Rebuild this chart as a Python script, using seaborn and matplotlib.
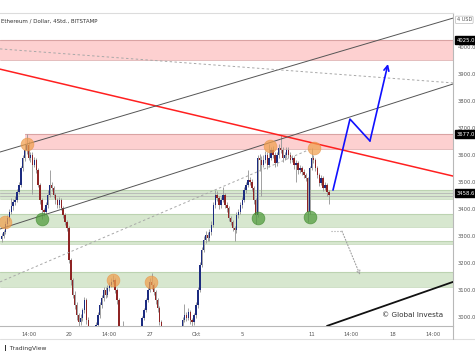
import numpy as np
import pandas as pd
import seaborn as sns
import matplotlib.pyplot as plt
import matplotlib.transforms as mtransforms
from matplotlib.lines import Line2D

# ETH/USD 4h candles, first candle 14 Sep 2021 04:00
# x axis = day of September (Okt 1 = 31)
first_open = 3290
closes = [3300, 3315, 3344, 3367, 3389, 3411,
          3426, 3433, 3463, 3489, 3552, 3589,
          3619, 3637, 3589, 3600, 3563, 3581,
          3544, 3489, 3433, 3396, 3389, 3415,
          3452, 3489, 3478, 3452, 3433, 3415,
          3433, 3404, 3378, 3352, 3330, 3211,
          3137, 3082, 3044, 3007, 2981, 2996,
          3026, 3063, 2989, 2933, 2896, 2915,
          2944, 2970, 3007, 3044, 3070, 3100,
          3082, 3107, 3119, 3130, 3137, 3100,
          3063, 2952, 2896, 2960, 2933, 2915,
          2922, 2933, 2915, 2907, 2922, 2930,
          2952, 2996, 3026, 3063, 3100, 3130,
          3119, 3093, 3063, 3033, 2981, 2944,
          2933, 2915, 2896, 2878, 2885, 2870,
          2896, 2915, 2922, 2944, 2989, 3007,
          2996, 3018, 2989, 2981, 3007, 3044,
          3100, 3193, 3248, 3285, 3304, 3293,
          3315, 3341, 3415, 3452, 3441, 3415,
          3433, 3452, 3415, 3404, 3367, 3352,
          3330, 3322, 3378, 3389, 3415, 3433,
          3470, 3489, 3507, 3500, 3478, 3433,
          3378, 3589, 3581, 3563, 3581, 3600,
          3563, 3589, 3619, 3600, 3570, 3600,
          3626, 3619, 3589, 3600, 3619, 3600,
          3581, 3589, 3563, 3570, 3544, 3552,
          3537, 3526, 3515, 3389, 3552, 3589,
          3581, 3552, 3526, 3496, 3515, 3478,
          3489, 3463, 3452]
highs = [3312, 3322, 3355, 3378, 3400, 3440,
         3437, 3448, 3475, 3500, 3560, 3600,
         3640, 3677, 3650, 3612, 3610, 3592,
         3590, 3552, 3495, 3440, 3405, 3425,
         3470, 3545, 3500, 3485, 3460, 3440,
         3445, 3440, 3410, 3385, 3360, 3338,
         3220, 3145, 3095, 3055, 3015, 3010,
         3035, 3075, 3070, 3000, 2945, 2925,
         2955, 2980, 3018, 3055, 3080, 3112,
         3110, 3118, 3130, 3145, 3156, 3145,
         3108, 3070, 2960, 2985, 2968, 2940,
         2930, 2940, 2940, 2922, 2930, 2938,
         2960, 3005, 3035, 3072, 3110, 3145,
         3163, 3125, 3100, 3070, 3040, 2990,
         2950, 2940, 2922, 2905, 2895, 2892,
         2905, 2925, 2932, 2955, 3000, 3050,
         3020, 3035, 3025, 2998, 3015, 3055,
         3110, 3205, 3260, 3300, 3320, 3315,
         3325, 3355, 3425, 3470, 3465, 3448,
         3445, 3481, 3460, 3425, 3410, 3375,
         3360, 3338, 3390, 3400, 3425, 3445,
         3482, 3500, 3544, 3520, 3510, 3485,
         3440, 3600, 3605, 3595, 3600, 3615,
         3610, 3640, 3630, 3635, 3610, 3612,
         3640, 3674, 3630, 3612, 3630, 3628,
         3610, 3600, 3595, 3580, 3578, 3562,
         3560, 3548, 3535, 3520, 3560, 3626,
         3600, 3590, 3560, 3535, 3525, 3522,
         3500, 3495, 3470]
lows = [3278, 3292, 3308, 3335, 3356, 3380,
        3398, 3415, 3425, 3455, 3480, 3540,
        3578, 3605, 3580, 3575, 3455, 3555,
        3535, 3480, 3420, 3362, 3375, 3380,
        3405, 3445, 3465, 3440, 3420, 3405,
        3405, 3395, 3368, 3340, 3318, 3200,
        3120, 3070, 3030, 2990, 2960, 2970,
        2985, 3015, 2975, 2920, 2860, 2880,
        2905, 2935, 2960, 2998, 3035, 3060,
        3070, 3075, 3098, 3110, 3122, 3090,
        3050, 2940, 2880, 2890, 2920, 2900,
        2905, 2912, 2905, 2895, 2898, 2912,
        2920, 2945, 2988, 3018, 3055, 3092,
        3105, 3080, 3050, 3020, 2970, 2930,
        2920, 2900, 2880, 2860, 2865, 2855,
        2860, 2885, 2905, 2912, 2935, 2980,
        2985, 2988, 2975, 2968, 2972, 2998,
        3035, 3092, 3185, 3240, 3275, 3280,
        3282, 3305, 3335, 3405, 3430, 3400,
        3405, 3425, 3405, 3390, 3355, 3340,
        3320, 3280, 3312, 3368, 3380, 3405,
        3425, 3460, 3480, 3490, 3465, 3420,
        3345, 3370, 3540, 3450, 3555, 3570,
        3550, 3555, 3580, 3590, 3555, 3560,
        3590, 3608, 3575, 3580, 3590, 3590,
        3570, 3575, 3550, 3500, 3530, 3535,
        3525, 3515, 3505, 3352, 3380, 3545,
        3570, 3540, 3515, 3485, 3488, 3465,
        3470, 3450, 3420]

# support / resistance zones
zone_lo = [3950, 3622, 3437, 3333, 3272, 3111]
zone_hi = [4025, 3677, 3470, 3381, 3282, 3167]
zone_start = [14.03, 16.19, 14.03, 14.03, 14.03, 14.03]
zone_kind = ['red', 'red', 'green', 'green', 'green', 'green']
level_lines = [3458.6, 3449]

# trend lines (start day, start price, end day, end price)
red_line = [14.03, 3918, 53.25, 3522]
channel_up = [14.03, 3611, 53.25, 4107]
channel_low = [14.03, 3326, 53.25, 3863]
dash_top = [14.03, 3993, 53.25, 3867]
dash_low = [14.03, 3130, 41.13, 3626]
support_line = [42.34, 2967, 53.25, 3130]

# projection paths
blue_days = [42.86, 44.33, 46.06, 47.62]
blue_prices = [3470, 3733, 3652, 3937]
gray_days = [42.69, 43.64, 45.20]
gray_prices = [3318, 3318, 3156]

# highlighted highs / lows
orange_days = [16.37, 14.46, 23.81, 27.10, 37.41, 41.22]
orange_prices = [3641, 3352, 3137, 3131, 3633, 3625]
green_days = [17.64, 36.37, 40.87]
green_prices = [3363, 3368, 3370]

price_ticks = [3000, 3100, 3200, 3300, 3400, 3500, 3600, 3700, 3800, 3900, 4000]
marked_prices = [4025.0, 3677.0, 3458.6]
time_ticks = [16.58, 20, 23.5, 27, 31, 35, 41, 44.4, 48, 51.5]
time_labels = ['14:00', '20', '14:00', '27', 'Okt', '5', '11', '14:00', '18', '14:00']

sns.set_style("white")
plt.rcParams['font.family'] = ['DejaVu Sans']

fig = plt.figure(figsize=(4.75, 3.57), dpi=100)
ax = fig.add_axes([0, 31/357, 453/475, 313/357])
ax.set_xlim(14.03, 53.25)
ax.set_ylim(2966.7, 4125.9)

# zones
for lo, hi, x0, kind in zip(zone_lo, zone_hi, zone_start, zone_kind):
    fc = '#fdd0d0' if kind == 'red' else '#d7e7cf'
    ec = '#d9a3a3' if kind == 'red' else '#bcd3b1'
    ax.fill_between([x0, 53.25], lo, hi, color=fc, lw=0, zorder=1)
    ax.plot([x0, 53.25], [hi, hi], color=ec, lw=0.8, zorder=1)
    ax.plot([x0, 53.25], [lo, lo], color=ec, lw=0.5, zorder=1)
for lvl in level_lines:
    ax.axhline(lvl, color='#b5b5b5', lw=0.6, zorder=1)

# candles
closes = np.array(closes)
opens = np.concatenate([[first_open], closes[:-1]])
times = 14 + (np.arange(len(closes)) + 1) / 6
df = pd.DataFrame({'t': times, 'o': opens, 'h': highs, 'l': lows, 'c': closes})
up = df['c'] >= df['o']
ax.vlines(df['t'], df['l'], df['h'], color='#9a9a9a', lw=0.65, zorder=2)
ax.bar(df['t'], df['c'] - df['o'], bottom=df['o'], width=0.12,
       color=np.where(up, '#1c2b80', '#8e2424'), lw=0, zorder=3)

# trend lines
def seg(p, **kw):
    ax.plot([p[0], p[2]], [p[1], p[3]], **kw)

seg(red_line, color='#ff2020', lw=1.1, zorder=4)
seg(channel_up, color='#555555', lw=0.7, zorder=4)
seg(channel_low, color='#555555', lw=0.7, zorder=4)
seg(dash_top, color='#a8a8a8', lw=0.7, dashes=(2.5, 2.5), zorder=4)
seg(dash_low, color='#a8a8a8', lw=0.7, dashes=(2.5, 2.5), zorder=4)
seg(support_line, color='#111111', lw=1.3, zorder=4)

# projections
ax.plot(blue_days[:-1], blue_prices[:-1], color='#1010ff', lw=1.2, zorder=5)
ax.annotate('', xy=(blue_days[-1], blue_prices[-1]), xytext=(blue_days[-2], blue_prices[-2]),
            arrowprops=dict(arrowstyle='->', color='#1010ff', lw=1.2, mutation_scale=9,
                            shrinkA=0, shrinkB=0), zorder=5)
ax.plot(gray_days[:-1], gray_prices[:-1], color='#a0a0a0', lw=0.8, ls=':', zorder=5)
ax.annotate('', xy=(gray_days[-1], gray_prices[-1]), xytext=(gray_days[-2], gray_prices[-2]),
            arrowprops=dict(arrowstyle='->', color='#a0a0a0', lw=0.8, ls=':', mutation_scale=6,
                            shrinkA=0, shrinkB=0), zorder=5)

# circles
sns.scatterplot(x=orange_days, y=orange_prices, s=85, color='#f0a04e', alpha=0.72,
                edgecolor='#e8954a', linewidth=0.5, ax=ax, zorder=6)
sns.scatterplot(x=green_days, y=green_prices, s=85, color='#4e9a3a', alpha=0.72,
                edgecolor='#3f8a2e', linewidth=0.5, ax=ax, zorder=6)

# axes styling
ax.spines['left'].set_visible(False)
ax.spines['top'].set_color('#dcdcdc')
ax.spines['top'].set_linewidth(0.8)
ax.spines['right'].set_color('#b8b8b8')
ax.spines['bottom'].set_color('#b8b8b8')
ax.spines['right'].set_linewidth(0.8)
ax.spines['bottom'].set_linewidth(0.8)

ax.yaxis.tick_right()
ax.set_yticks(price_ticks)
ax.set_yticklabels([f"{v:.1f}" for v in price_ticks])
ax.tick_params(axis='y', length=0, pad=3.5, labelsize=3.8, labelcolor='#555555')
ax.set_xticks(time_ticks)
ax.set_xticklabels(time_labels)
ax.tick_params(axis='x', length=0, pad=4, labelsize=3.8, labelcolor='#555555')
ax.set_xlabel('')
ax.set_ylabel('')

trans = mtransforms.blended_transform_factory(ax.transAxes, ax.transData)
for lvl in marked_prices:
    ax.text(1.008, lvl, f"{lvl:.1f}", transform=trans, fontsize=3.8, color='white',
            ha='left', va='center', zorder=10, clip_on=False,
            bbox=dict(boxstyle='square,pad=0.3', fc='black', ec='black'))
ax.text(1.008, 0.978, '4 USD', transform=ax.transAxes, fontsize=3.6, color='#555555',
        ha='left', va='center', clip_on=False,
        bbox=dict(boxstyle='round,pad=0.25', fc='white', ec='#bbbbbb', lw=0.5))

ax.text(0.002, 0.973, 'Ethereum / Dollar, 4Std., BITSTAMP', transform=ax.transAxes,
        fontsize=4, color='#333333', ha='left', va='center')
ax.text(0.978, 0.035, '\u00a9 Global Investa', transform=ax.transAxes,
        fontsize=5.2, color='#333333', ha='right', va='center', zorder=8)

# bottom strip
fig.add_artist(Line2D([0, 1], [18/357, 18/357], color='#e0e0e0', lw=0.8))
fig.add_artist(Line2D([453/475, 453/475], [18/357, 31/357], color='#b8b8b8', lw=0.8))
fig.text(3/475, 9/357, '\u2759 TradingView', fontsize=4.3, color='#333333', va='center')

fig.savefig('out.png', dpi=100)
